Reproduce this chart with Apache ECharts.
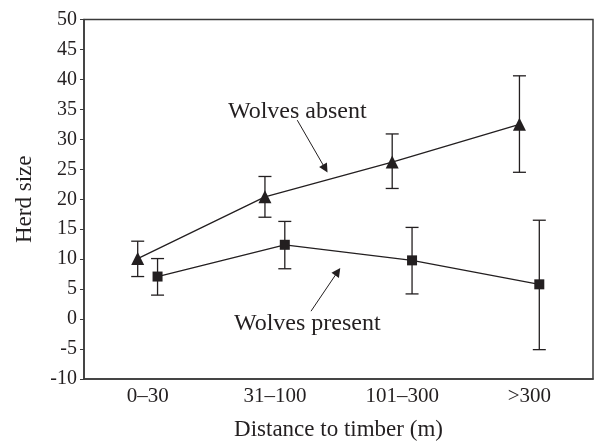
<!DOCTYPE html>
<html>
<head>
<meta charset="utf-8">
<script src="https://cdn.jsdelivr.net/npm/echarts@6/dist/echarts.min.js"></script>
<style>
  html, body { margin: 0; background: #fff; }
  #chart { width: 597px; height: 446px; }
</style>
</head>
<body>
<div id="chart"></div>
<script>
// --- data ---
const categories = ['0–30', '31–100', '101–300', '>300']
const absentMean = [10.1, 20.4, 26.2, 32.5]
const absentLow = [7.1, 17.0, 21.8, 24.5]
const absentHigh = [13.0, 23.8, 30.9, 40.6]
const presentMean = [7.1, 12.4, 9.8, 5.8]
const presentLow = [4.0, 8.4, 4.2, -5.1]
const presentHigh = [10.1, 16.3, 15.3, 16.5]
const yMin = -10
const yMax = 50
const yStep = 5

// --- styling ---
const INK = '#231f20'
const FONT = 'Liberation Serif'
const DODGE = 0.078 // horizontal shift of each group from the category centre

const pts = (vals, shift) => vals.map((v, i) => [i + shift, v])
const bars = (lo, hi, shift) => lo.map((v, i) => [i + shift, v, hi[i]])

// error bar: vertical stem with caps
const errorItem = (params, api) => {
  const x = api.value(0)
  const lo = api.coord([x, api.value(1)])
  const hi = api.coord([x, api.value(2)])
  const w = 6.5
  const style = { stroke: INK, lineWidth: 1.3 }
  return {
    type: 'group',
    children: [
      { type: 'line', shape: { x1: lo[0], y1: lo[1], x2: hi[0], y2: hi[1] }, style },
      { type: 'line', shape: { x1: lo[0] - w, y1: lo[1], x2: lo[0] + w, y2: lo[1] }, style },
      { type: 'line', shape: { x1: hi[0] - w, y1: hi[1], x2: hi[0] + w, y2: hi[1] }, style }
    ]
  }
}

const chart = echarts.init(document.getElementById('chart'))

const option = {
  animation: false,
  backgroundColor: '#fff',
  textStyle: { fontFamily: FONT, color: INK },
  grid: {
    left: 84, right: 4, top: 19.5, bottom: 62.7,
    show: true, borderColor: '#3a3a3a', borderWidth: 1.5, backgroundColor: 'transparent'
  },
  xAxis: [
    {
      type: 'category',
      data: categories,
      boundaryGap: true,
      name: 'Distance to timber (m)',
      nameLocation: 'middle',
      nameGap: 39,
      nameTextStyle: { fontFamily: FONT, fontSize: 23, color: INK },
      axisLine: { onZero: false, lineStyle: { color: '#3a3a3a', width: 1.5 } },
      axisTick: { inside: true, length: 5, alignWithLabel: true, lineStyle: { color: '#3a3a3a' } },
      axisLabel: { fontFamily: FONT, fontSize: 21, color: INK, margin: 7 },
      splitLine: { show: false }
    },
    { type: 'value', min: -0.5, max: 3.5, show: false, axisLine: { onZero: false } }
  ],
  yAxis: {
    type: 'value',
    min: yMin, max: yMax, interval: yStep,
    name: 'Herd size',
    nameLocation: 'middle',
    nameGap: 48,
    nameTextStyle: { fontFamily: FONT, fontSize: 23, color: INK },
    axisLine: { show: true, onZero: false, lineStyle: { color: '#3a3a3a', width: 1.5 } },
    axisTick: { show: true, length: 4, lineStyle: { color: '#3a3a3a' } },
    axisLabel: { fontFamily: FONT, fontSize: 20, color: INK, margin: 7 },
    splitLine: { show: false }
  },
  series: [
    {
      name: 'Wolves absent',
      type: 'line',
      xAxisIndex: 1,
      data: pts(absentMean, -DODGE),
      symbol: 'triangle',
      symbolSize: 13,
      itemStyle: { color: INK },
      lineStyle: { color: INK, width: 1.3 },
      z: 5,
      markLine: {
        silent: true,
        symbol: ['none', 'triangle'],
        symbolSize: 9,
        label: { show: false },
        lineStyle: { color: INK, width: 1, type: 'solid' },
        emphasis: { disabled: true },
        data: [
          [{ coord: [1.176, 33.2] }, { coord: [1.396, 25.1] }],
          [{ coord: [1.284, 1.32] }, { coord: [1.494, 7.92] }]
        ]
      }
    },
    {
      name: 'Wolves present',
      type: 'line',
      xAxisIndex: 1,
      data: pts(presentMean, DODGE),
      symbol: 'rect',
      symbolSize: 10,
      itemStyle: { color: INK },
      lineStyle: { color: INK, width: 1.3 },
      z: 5
    },
    {
      type: 'custom',
      xAxisIndex: 1,
      renderItem: errorItem,
      encode: { x: 0, y: [1, 2] },
      data: bars(absentLow, absentHigh, -DODGE),
      z: 4
    },
    {
      type: 'custom',
      xAxisIndex: 1,
      renderItem: errorItem,
      encode: { x: 0, y: [1, 2] },
      data: bars(presentLow, presentHigh, DODGE),
      z: 4
    },
    {
      // series labels inside the plot
      type: 'scatter',
      xAxisIndex: 1,
      symbolSize: 0,
      silent: true,
      itemStyle: { opacity: 1, color: INK },
      data: [[1.176, 34.57, 'Wolves absent'], [1.255, -0.74, 'Wolves present']],
      label: {
        show: true,
        position: 'inside',
        formatter: p => p.value[2],
        fontFamily: FONT,
        fontSize: 24,
        color: INK,
        textBorderWidth: 0
      }
    }
  ]
}

chart.setOption(option)
</script>
</body>
</html>
